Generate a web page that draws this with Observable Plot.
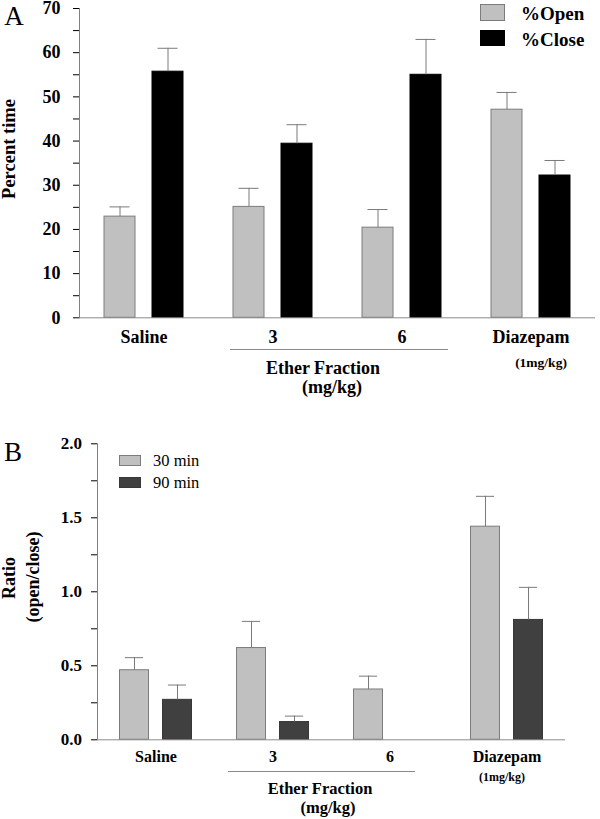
<!DOCTYPE html>
<html>
<head>
<meta charset="utf-8">
<script src="https://cdn.jsdelivr.net/npm/d3@7"></script>
<script src="https://cdn.jsdelivr.net/npm/@observablehq/plot@0.6"></script>
<style>
  body { margin: 0; background: #fff; }
  #wrap { position: relative; width: 600px; height: 819px; font-family: "Liberation Serif", "Times New Roman", serif; color: #000; overflow: hidden; }
  #wrap svg { position: absolute; left: 0; overflow: visible; }
  .lbl { position: absolute; transform: translate(-50%, -50%); white-space: nowrap; line-height: 1; }
  .rot { transform: translate(-50%, -50%) rotate(-90deg); }
  .b { font-weight: bold; }
  .sw { position: absolute; box-sizing: border-box; }
  .ln { position: absolute; height: 0; border-top: 1px solid #8a8a8a; }
  .lt { position: absolute; transform: translateY(-50%); white-space: nowrap; line-height: 1; }
  #wrap g[aria-label="y-axis tick"] { stroke: #808080; }
  #wrap g[aria-label="y-axis tick label"] { fill: #000; }
</style>
</head>
<body>
<div id="wrap"></div>
<script>
// ---------- data ----------
const groups = ["Saline", "3", "6", "Diazepam"];

// Panel A: percent time
const seriesA = ["%Open", "%Close"];
const openMean = [22.9, 25.1, 20.4, 47.1];
const openErr = [2.2, 4.2, 4.1, 3.9];
const closeMean = [55.7, 39.4, 55.0, 32.2];
const closeErr = [5.3, 4.3, 8.0, 3.4];
const ticksA = [0, 10, 20, 30, 40, 50, 60, 70];
const minorTicksA = [5, 15, 25, 35, 45, 55, 65];

// Panel B: ratio open/close
const seriesB = ["30 min", "90 min"];
const min30Mean = [0.47, 0.62, 0.34, 1.44];
const min30Err = [0.085, 0.18, 0.09, 0.205];
const min90Mean = [0.27, 0.12, null, 0.81];
const min90Err = [0.10, 0.04, null, 0.22];
const ticksB = [0, 0.5, 1, 1.5, 2];
const minorTicksB = [0.25, 0.75, 1.25, 1.75];

// ---------- styles ----------
const fillsA = ["#c0c0c0", "#000000"];
const strokesA = ["#7c7c7c", "#000000"];
const fillsB = ["#c0c0c0", "#404040"];
const strokesB = ["#7c7c7c", "#383838"];

const tidyA = groups.flatMap((g, i) => [
  {group: g, series: seriesA[0], value: openMean[i], err: openErr[i]},
  {group: g, series: seriesA[1], value: closeMean[i], err: closeErr[i]}
]);
const tidyB = groups.flatMap((g, i) => [
  {group: g, series: seriesB[0], value: min30Mean[i], err: min30Err[i]},
  {group: g, series: seriesB[1], value: min90Mean[i], err: min90Err[i]}
]).filter(d => d.value != null);

function panel(o) {
  return Plot.plot({
    width: 600, height: o.height,
    marginTop: o.mt, marginBottom: o.mb, marginLeft: o.ml, marginRight: o.mr,
    style: {fontFamily: '"Liberation Serif", "Times New Roman", serif', fontSize: o.tickFont + "px", fontWeight: "bold", background: "transparent", overflow: "visible", color: "#000"},
    fx: {domain: groups, padding: 0, label: null, axis: null},
    x: {domain: o.series, paddingInner: o.pin, paddingOuter: o.pout, axis: null},
    y: {domain: o.yDomain, axis: null},
    color: {domain: o.series, range: o.fills},
    marks: [
      Plot.axisFx({anchor: "bottom", tickSize: 0, tickPadding: o.fxPad, label: null, fontSize: o.catFont}),
      Plot.axisY({ticks: o.minor, tickSize: 6, tickFormat: () => "", label: null}),
      Plot.axisY({ticks: o.ticks, tickSize: 6, tickPadding: o.tickPad, tickFormat: o.fmt, label: null}),
      Plot.frame({anchor: "left", stroke: "#808080", facetAnchor: "left"}),
      ...o.series.map((s, i) => Plot.barY(o.data.filter(d => d.series === s), {
        fx: "group", x: "series", y: "value", fill: "series", stroke: o.strokes[i], strokeWidth: 1
      })),
      Plot.ruleX(o.data, {fx: "group", x: "series", y1: "value", y2: d => d.value + d.err, stroke: "#7a7a7a"}),
      Plot.tickY(o.data, {fx: "group", x: "series", y: d => d.value + d.err, stroke: "#7a7a7a", insetLeft: o.capInset, insetRight: o.capInset}),
      Plot.ruleY([0], {stroke: "#8a8a8a"})
    ]
  });
}

const wrap = document.getElementById("wrap");

const svgA = panel({
  data: tidyA, series: seriesA, fills: fillsA, strokes: strokesA,
  height: 400, mt: 8, mb: 82.7, ml: 78, mr: 4,
  pin: 0.344, pout: 0.499, capInset: 5.5,
  yDomain: [0, 70], ticks: ticksA, minor: minorTicksA, fmt: d3.format("d"),
  tickFont: 18, catFont: 18, tickPad: 13, fxPad: 12
});
svgA.style.top = "0px";
wrap.appendChild(svgA);

const svgB = panel({
  data: tidyB, series: seriesB, fills: fillsB, strokes: strokesB,
  height: 419, mt: 43.3, mb: 79.7, ml: 95.5, mr: 34,
  pin: 0.333, pout: 0.497, capInset: 5.4,
  yDomain: [0, 2], ticks: ticksB, minor: minorTicksB, fmt: d3.format(".1f"),
  tickFont: 17, catFont: 16, tickPad: 9.5, fxPad: 11
});
svgB.style.top = "400px";
wrap.appendChild(svgB);

// ---------- annotations ----------
function label(text, x, y, size, cls) {
  const d = document.createElement("div");
  d.className = "lbl " + (cls || "");
  d.style.left = x + "px"; d.style.top = y + "px"; d.style.fontSize = size + "px";
  d.textContent = text;
  wrap.appendChild(d);
}
function ltext(text, x, y, size, cls) {
  const d = document.createElement("div");
  d.className = "lt " + (cls || "");
  d.style.left = x + "px"; d.style.top = y + "px"; d.style.fontSize = size + "px";
  d.textContent = text;
  wrap.appendChild(d);
}
function swatch(x, y, w, h, fill, stroke) {
  const d = document.createElement("div");
  d.className = "sw";
  Object.assign(d.style, {left: x + "px", top: y + "px", width: w + "px", height: h + "px", background: fill, border: "1px solid " + stroke});
  wrap.appendChild(d);
}
function hline(x, y, w) {
  const d = document.createElement("div");
  d.className = "ln";
  Object.assign(d.style, {left: x + "px", top: y + "px", width: w + "px"});
  wrap.appendChild(d);
}

// Panel A
label("A", 14, 16, 27);
label("Percent time", 9, 149, 18.5, "b rot");
swatch(480, 4, 25, 17, fillsA[0], strokesA[0]);
swatch(480, 30, 25, 16, fillsA[1], strokesA[1]);
ltext(seriesA[0], 521, 13, 19, "b");
ltext(seriesA[1], 521, 38.5, 19, "b");
hline(230, 349, 218);
label("Ether Fraction", 323, 368, 18, "b");
label("(mg/kg)", 332, 387, 18, "b");
label("(1mg/kg)", 541, 363, 13.5, "b");

// Panel B
label("B", 13, 452, 27);
label("Ratio", 9, 578, 18, "b rot");
label("(open/close)", 33, 577, 18, "b rot");
swatch(119, 455, 22, 11, fillsB[0], strokesB[0]);
swatch(119, 477, 22, 11, fillsB[1], strokesB[1]);
ltext(seriesB[0], 153, 461, 16.5);
ltext(seriesB[1], 153, 483, 16.5);
hline(228, 771, 187);
label("Ether Fraction", 320, 789, 16.5, "b");
label("(mg/kg)", 328, 808, 16.5, "b");
label("(1mg/kg)", 502, 777, 12, "b");
</script>
</body>
</html>
